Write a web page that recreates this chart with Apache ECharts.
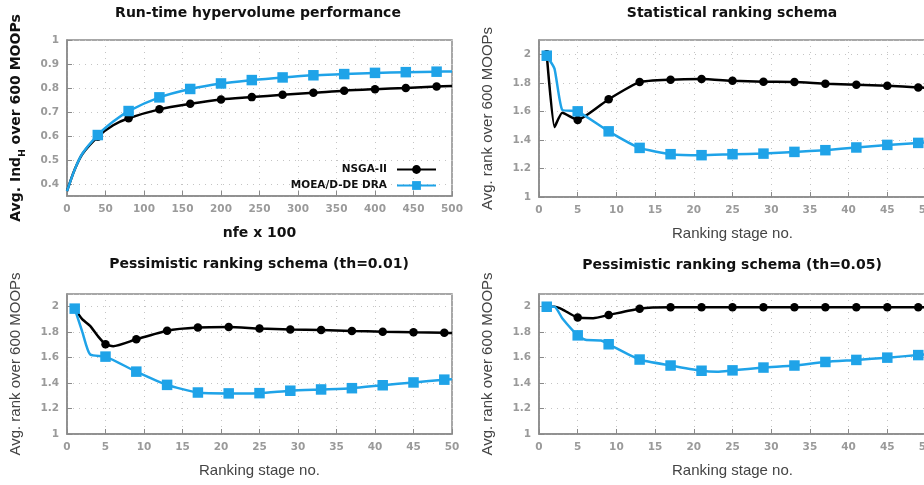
<!DOCTYPE html>
<html><head><meta charset="utf-8">
<script src="https://cdn.jsdelivr.net/npm/echarts@6/dist/echarts.min.js"></script>
<style>html,body{margin:0;padding:0;overflow:hidden;background:#fff}#c{width:924px;height:485px}</style>
</head><body><div id="c"></div><script>
// ---------- data ----------
const seriesNames = ['NSGA-II', 'MOEA/D-DE DRA'];
const panelTitles = ['Run-time hypervolume performance', 'Statistical ranking schema',
  'Pessimistic ranking schema (th=0.01)', 'Pessimistic ranking schema (th=0.05)'];

// Panel 1: run-time hypervolume (x = nfe x 100)
const hvNfe = [0, 10, 20, 40, 60, 80, 120, 160, 200, 240, 280, 320, 360, 400, 440, 480, 500];
const hvNsga = [0.37, 0.46, 0.525, 0.597, 0.645, 0.674, 0.711, 0.734, 0.752, 0.762, 0.772, 0.780, 0.789, 0.795, 0.800, 0.806, 0.808];
const hvMoea = [0.37, 0.46, 0.527, 0.604, 0.66, 0.704, 0.761, 0.796, 0.819, 0.833, 0.844, 0.853, 0.858, 0.863, 0.866, 0.868, 0.869];
const hvMarkerNfe = [40, 80, 120, 160, 200, 240, 280, 320, 360, 400, 440, 480];

// Ranking stages with markers (panels 2-4)
const rankMarkerStages = [1, 5, 9, 13, 17, 21, 25, 29, 33, 37, 41, 45, 49];

// Panel 2: statistical ranking
const statStageN = [1, 2, 3, 5, 9, 13, 17, 21, 25, 29, 33, 37, 41, 45, 49, 50];
const statNsga = [2.0, 1.49, 1.59, 1.54, 1.685, 1.805, 1.822, 1.826, 1.814, 1.807, 1.806, 1.794, 1.787, 1.78, 1.768, 1.765];
const statStageM = [1, 2, 3, 5, 9, 13, 17, 21, 25, 29, 33, 37, 41, 45, 49, 50];
const statMoea = [1.99, 1.90, 1.61, 1.60, 1.46, 1.344, 1.30, 1.293, 1.30, 1.304, 1.316, 1.328, 1.347, 1.365, 1.379, 1.382];

// Panel 3: pessimistic ranking th=0.01
const p01StageN = [1, 2, 3, 4, 5, 6, 9, 13, 17, 21, 25, 29, 33, 37, 41, 45, 49, 50];
const p01Nsga = [1.985, 1.90, 1.85, 1.77, 1.705, 1.69, 1.744, 1.812, 1.836, 1.84, 1.828, 1.822, 1.817, 1.81, 1.804, 1.80, 1.796, 1.793];
const p01StageM = [1, 2, 3, 5, 9, 13, 17, 21, 25, 29, 33, 37, 41, 45, 49, 50];
const p01Moea = [1.985, 1.80, 1.625, 1.608, 1.49, 1.386, 1.326, 1.319, 1.321, 1.34, 1.35, 1.36, 1.383, 1.405, 1.427, 1.43];

// Panel 4: pessimistic ranking th=0.05
const p05StageN = [1, 2, 3, 5, 7, 9, 13, 17, 21, 25, 29, 33, 37, 41, 45, 49, 50];
const p05Nsga = [2.0, 2.0, 1.98, 1.915, 1.91, 1.935, 1.985, 1.995, 1.995, 1.995, 1.995, 1.995, 1.995, 1.995, 1.995, 1.995, 1.995];
const p05StageM = [1, 2, 3, 5, 6, 8, 9, 13, 17, 21, 23, 25, 29, 33, 37, 41, 45, 49, 50];
const p05Moea = [2.0, 2.0, 1.91, 1.775, 1.74, 1.735, 1.705, 1.585, 1.538, 1.497, 1.49, 1.50, 1.522, 1.538, 1.566, 1.582, 1.60, 1.62, 1.625];

const hvTicks = {min: 0, max: 500, interval: 50};
const rankTicks = {min: 0, max: 50, interval: 5};

// ---------- styles ----------
const BLACK = '#000000', BLUE = '#1fa3e8';
const FRAME = '#8a8a8a';
const boldFont = 'DejaVu Sans';
const plainFont = 'Liberation Sans';

const grids = [
  {left: 67, top: 40, width: 385, height: 156},
  {left: 539, top: 40, width: 387, height: 157},
  {left: 67, top: 294, width: 385, height: 140},
  {left: 539, top: 294, width: 387, height: 140}
];
const titleCenters = [[258, 6], [732, 6], [259, 257], [732, 258]];

const tickLabel = {color: '#9a9a9a', fontFamily: boldFont, fontWeight: 'bold', fontSize: 10.5, margin: 8};

function xAxis(i, t, name, bold) {
  return {
    type: 'value', gridIndex: i, min: t.min, max: t.max, interval: t.interval,
    name: name, nameLocation: 'middle', nameGap: bold ? 30 : 29,
    nameTextStyle: bold ? {fontFamily: boldFont, fontWeight: 'bold', fontSize: 14, color: '#111'}
                        : {fontFamily: plainFont, fontSize: 15, color: '#444'},
    axisLine: {show: true, onZero: false, lineStyle: {color: FRAME, width: 1.5}},
    axisTick: {show: true, inside: true, length: 5, lineStyle: {color: FRAME, width: 1}},
    axisLabel: Object.assign({}, tickLabel),
    splitLine: {show: true, lineStyle: {color: '#c4c4c4', width: 1, type: [1, 5]}}
  };
}
function yAxis(i, opt, name) {
  return Object.assign({
    type: 'value', gridIndex: i,
    name: name, nameLocation: 'middle', nameGap: 44, nameRotate: 90,
    axisLine: {show: true, onZero: false, lineStyle: {color: FRAME, width: 1.5}},
    axisTick: {show: true, inside: true, length: 5, lineStyle: {color: FRAME, width: 1}},
    splitLine: {show: true, lineStyle: {color: '#c4c4c4', width: 1, type: [1, 5]}}
  }, opt);
}

function buildData(xs, ys, markers) {
  return xs.map((x, k) => markers.indexOf(x) >= 0 ? [x, ys[k]] : {value: [x, ys[k]], symbol: 'none'});
}
function lineSeries(idx, name, xs, ys, markers, smooth) {
  const isBlack = name === seriesNames[0];
  return {
    type: 'line', name: name, xAxisIndex: idx, yAxisIndex: idx,
    data: buildData(xs, ys, markers),
    smooth: smooth,
    symbol: isBlack ? 'circle' : 'rect', symbolSize: isBlack ? 8.5 : 10.5,
    showSymbol: true, showAllSymbol: true,
    lineStyle: {color: isBlack ? BLACK : BLUE, width: 2.5},
    itemStyle: {color: isBlack ? BLACK : BLUE},
    emphasis: {disabled: true}, animation: false, z: isBlack ? 2 : 3
  };
}

const rankName = 'Avg. rank over 600 MOOPs';
function rankY() {
  return {min: 1, max: 2.1, interval: 0.2,
    axisLabel: Object.assign({showMaxLabel: false}, tickLabel),
    nameTextStyle: {fontFamily: plainFont, fontSize: 15, color: '#444'}};
}

const option = {
  animation: false,
  backgroundColor: '#fff',
  title: panelTitles.map((t, i) => ({
    text: t, left: titleCenters[i][0], top: titleCenters[i][1], textAlign: 'center', padding: 0,
    textStyle: {fontFamily: boldFont, fontWeight: 'bold', fontSize: 14, color: '#111'}
  })),
  legend: {
    data: seriesNames, orient: 'vertical', align: 'right',
    right: 924 - 437, top: 164, padding: 0, itemGap: 5, itemWidth: 39, itemHeight: 11,
    selectedMode: false,
    textStyle: {fontFamily: boldFont, fontWeight: 'bold', fontSize: 10.5, color: '#111', padding: [0, 5, 0, 0]}
  },
  grid: grids.map(g => Object.assign({show: true, borderColor: FRAME, borderWidth: 1.5,
    backgroundColor: 'transparent', containLabel: false, outerBoundsMode: 'none'}, g)),
  xAxis: [
    xAxis(0, hvTicks, 'nfe x 100', true),
    xAxis(1, rankTicks, 'Ranking stage no.', false),
    xAxis(2, rankTicks, 'Ranking stage no.', false),
    xAxis(3, rankTicks, 'Ranking stage no.', false)
  ],
  yAxis: [
    yAxis(0, {min: 0.35, max: 1, splitNumber: 6,
      axisLabel: Object.assign({showMinLabel: false}, tickLabel),
      nameTextStyle: {fontFamily: boldFont, fontWeight: 'bold', fontSize: 14, color: '#111',
        rich: {sub: {fontFamily: boldFont, fontWeight: 'bold', fontSize: 9, color: '#111', verticalAlign: 'bottom', padding: [0, 0, -4, 0]}}}},
      'Avg. Ind{sub|H} over 600 MOOPs'),
    yAxis(1, rankY(), rankName),
    yAxis(2, rankY(), rankName),
    yAxis(3, rankY(), rankName)
  ],
  series: [
    lineSeries(0, seriesNames[0], hvNfe, hvNsga, hvMarkerNfe, 0.3),
    lineSeries(0, seriesNames[1], hvNfe, hvMoea, hvMarkerNfe, 0.3),
    lineSeries(1, seriesNames[0], statStageN, statNsga, rankMarkerStages, 0.15),
    lineSeries(1, seriesNames[1], statStageM, statMoea, rankMarkerStages, 0.15),
    lineSeries(2, seriesNames[0], p01StageN, p01Nsga, rankMarkerStages, 0.2),
    lineSeries(2, seriesNames[1], p01StageM, p01Moea, rankMarkerStages, 0.2),
    lineSeries(3, seriesNames[0], p05StageN, p05Nsga, rankMarkerStages, 0.2),
    lineSeries(3, seriesNames[1], p05StageM, p05Moea, rankMarkerStages, 0.2)
  ]
};
const chart = echarts.init(document.getElementById('c'), null, {renderer: 'canvas'});
chart.setOption(option);
</script></body></html>
